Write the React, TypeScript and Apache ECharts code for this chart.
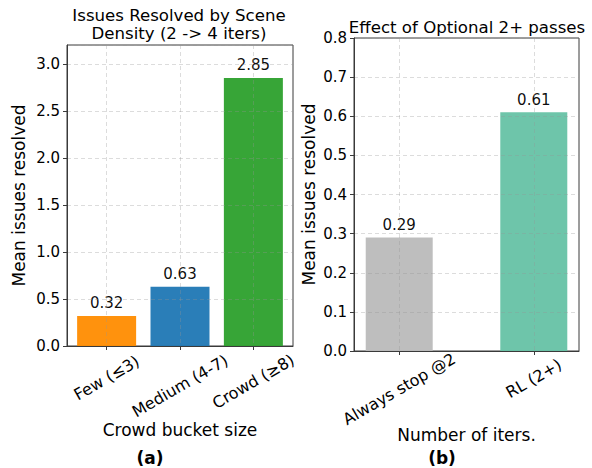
import React, { useEffect, useRef } from "react";
import * as echarts from "echarts";

// ---- data ----
const catsA = ["Few (≤3)", "Medium (4-7)", "Crowd (≥8)"];
const valuesA = [0.32, 0.63, 2.85];
const colorsA = ["#ff8c00", "#1f77b4", "#2ca02c"];
const labelOffsetsA = [32, 40, 35.5];

const catsB = ["Always stop @2", "RL (2+)"];
const valuesB = [0.29, 0.61];
const colorsB = ["#bbbbbb", "#66c2a5"];
const labelOffsetsB = [38, 27.5];

const yMaxA = 3.2;
const yStepA = 0.5;
const yMaxB = 0.8;
const yStepB = 0.1;

const titleA = "Issues Resolved by Scene\nDensity (2 -> 4 iters)";
const titleB = "Effect of Optional 2+ passes";
const xNameA = "Crowd bucket size";
const xNameB = "Number of iters.";
const yName = "Mean issues resolved";

const FONT = "DejaVu Sans";
const FS = 17; // axis names
const TFS = 16.6; // titles
const TS = 15; // y tick labels, bar labels
const XS = 16; // rotated category labels
const SPINE = "#3a3a3a";
const GRIDC = "rgba(150,150,150,0.33)";

function buildXAxes(
  gridIndex: number,
  cats: string[],
  offsets: number[],
  min: number,
  max: number,
  name: string,
  nameGap: number
) {
  const ticks = cats.map((_, i) => i);
  const main: any = {
    type: "value",
    gridIndex,
    position: "bottom",
    min,
    max,
    z: 3,
    name,
    nameLocation: "middle",
    nameGap,
    nameTextStyle: { fontFamily: FONT, fontSize: FS, color: "#000" },
    axisLine: { show: true, onZero: false, lineStyle: { color: SPINE, width: 1 } },
    axisTick: { show: true, length: 4, customValues: ticks, lineStyle: { color: SPINE } },
    axisLabel: { show: false, customValues: ticks },
    splitLine: { show: true, lineStyle: { color: GRIDC, type: [4, 3], width: 1 } },
  };
  const labelAxes = cats.map((c, i) => ({
    type: "value",
    gridIndex,
    position: "bottom",
    min,
    max,
    z: 3,
    axisLine: { show: false, onZero: false },
    axisTick: { show: false, customValues: [i] },
    splitLine: { show: false },
    axisLabel: {
      show: true,
      customValues: [i],
      rotate: 30,
      align: "center",
      verticalAlign: "middle",
      margin: offsets[i],
      fontFamily: FONT,
      fontSize: XS,
      color: "#000",
      formatter: () => c,
    },
  }));
  return [main, ...labelAxes];
}

function buildYAxis(gridIndex: number, max: number, step: number, hideMax: boolean, nameGap: number) {
  return {
    type: "value",
    gridIndex,
    min: 0,
    max,
    interval: step,
    z: 3,
    name: yName,
    nameLocation: "middle",
    nameGap,
    nameTextStyle: { fontFamily: FONT, fontSize: FS, color: "#000" },
    axisLine: { show: true, onZero: false, lineStyle: { color: SPINE, width: 1 } },
    axisTick: { show: true, length: 4, lineStyle: { color: SPINE } },
    axisLabel: {
      fontFamily: FONT,
      fontSize: TS,
      color: "#000",
      margin: 7,
      showMaxLabel: !hideMax,
      formatter: (v: number) => v.toFixed(1),
    },
    splitLine: { show: true, lineStyle: { color: GRIDC, type: [4, 3], width: 1 } },
  };
}

export default function App() {
  const ref = useRef<HTMLDivElement>(null);
  useEffect(() => {
    if (!ref.current) return;
    const chart = echarts.init(ref.current, null, { renderer: "svg" });
    const xAxesA = buildXAxes(0, catsA, labelOffsetsA, -0.54, 2.54, xNameA, 75);
    const xAxesB = buildXAxes(1, catsB, labelOffsetsB, -0.336, 1.336, xNameB, 75);
    const xAxis = [...xAxesA, ...xAxesB];
    const xIndexB = xAxesA.length;
    const labelStyle = {
      show: true,
      position: "top",
      distance: 5,
      fontFamily: FONT,
      fontSize: TS,
      color: "#000",
      formatter: (p: any) => p.value[1].toFixed(2),
    };
    const tStyle = (bold: boolean, size: number) => ({
      fontFamily: FONT,
      fontSize: size,
      fontWeight: bold ? "bold" : "normal",
      color: "#000",
      lineHeight: 18,
    });
    chart.setOption({
      animation: false,
      backgroundColor: "#fff",
      title: [
        { text: titleA, left: 179, top: 6, padding: 0, textAlign: "center", textStyle: tStyle(false, TFS) },
        { text: titleB, left: 467, top: 18, padding: 0, textAlign: "center", textStyle: tStyle(false, TFS) },
        { text: "(a)", left: 150, top: 449, padding: 0, textAlign: "center", textStyle: tStyle(true, FS) },
        { text: "(b)", left: 442, top: 449, padding: 0, textAlign: "center", textStyle: tStyle(true, FS) },
      ],
      grid: [
        { left: 67, right: 299, top: 45, bottom: 122, show: true, borderColor: SPINE, borderWidth: 1, backgroundColor: "transparent" },
        { left: 354, right: 13, top: 38, bottom: 117, show: true, borderColor: SPINE, borderWidth: 1, backgroundColor: "transparent" },
      ],
      xAxis,
      yAxis: [buildYAxis(0, yMaxA, yStepA, true, 40), buildYAxis(1, yMaxB, yStepB, false, 37)],
      series: [
        {
          type: "bar",
          xAxisIndex: 0,
          yAxisIndex: 0,
          barWidth: 59,
          data: valuesA.map((v, i) => ({ value: [i, v], itemStyle: { color: colorsA[i], opacity: 0.95 } })),
          label: labelStyle,
        },
        {
          type: "bar",
          xAxisIndex: xIndexB,
          yAxisIndex: 1,
          barWidth: 67,
          data: valuesB.map((v, i) => ({ value: [i, v], itemStyle: { color: colorsB[i], opacity: 0.95 } })),
          label: labelStyle,
        },
      ],
    });
    return () => chart.dispose();
  }, []);
  return <div ref={ref} style={{ position: "fixed", left: 0, top: 0, width: 592, height: 468 }} />;
}
